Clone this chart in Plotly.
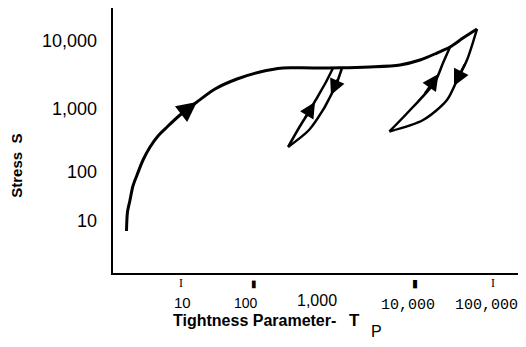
import math
import plotly.graph_objects as go

# ---- data (Tightness parameter Tp, Stress S) ----
main_T = [2.00, 2.06, 2.22, 2.42, 2.73, 3.26, 4.01, 5.07, 6.62, 9.71, 16.0, 27.3, 52.2, 103, 203,
          335, 1092, 2650, 6430, 11600, 19100, 28100, 41200, 62400]
main_S = [12.4, 24.3, 37.1, 60.9, 89.9, 153, 242, 358, 492, 753, 1194, 1892, 2697, 3455, 3981,
          4000, 4000, 4125, 4430, 5280, 6770, 8380, 11500, 15850]

mid_up_T = [236, 336, 451, 570, 723, 889]
mid_up_S = [243, 510, 900, 1476, 2425, 3981]
mid_down_T = [1159, 971, 813, 662, 438, 236]
mid_down_S = [3981, 2180, 1426, 900, 443, 243]

right_up_T = [4700, 9420, 18000, 22860, 28100]
right_up_S = [420, 1000, 2425, 4755, 8380]
right_down_T = [62400, 46400, 35600, 25700, 12700, 4700]
right_down_S = [15850, 5280, 2793, 1282, 631, 420]

# arrow heads: tip and tail points along the curves
arrow_tip_T = [16.0, 522, 837, 20000, 31600]
arrow_tip_S = [1194, 1194, 1530, 3220, 2104]
arrow_tail_T = [9.71, 383, 1045, 13030, 44400]
arrow_tail_S = [753, 653, 2793, 1530, 4755]
arrow_scale = [1.6, 1.25, 1.25, 1.3, 1.3]

x_tick_vals = [10, 100, 1000, 10000, 100000]
x_tick_text = ["10", "100", "1,000", "10,000", "100,000"]
y_tick_vals = [10, 100, 1000, 10000]
y_tick_text = ["10", "100", "1,000", "10,000"]

SANS = "Liberation Sans, Arial, sans-serif"
MONO = "Liberation Mono, DejaVu Sans Mono, monospace"

fig = go.Figure()

def add_line(xs, ys, w):
    fig.add_trace(go.Scatter(x=xs, y=ys, mode="lines",
                             line=dict(color="black", width=w, shape="spline", smoothing=0.8),
                             hoverinfo="skip", showlegend=False))

add_line(main_T, main_S, 3)
add_line(mid_up_T, mid_up_S, 2.5)
add_line(mid_down_T, mid_down_S, 2.5)
add_line(right_up_T, right_up_S, 2.5)
add_line(right_down_T, right_down_S, 2.5)

ann = []
# arrows
for tx, ty, ax, ay, s in zip(arrow_tip_T, arrow_tip_S, arrow_tail_T, arrow_tail_S, arrow_scale):
    ann.append(dict(x=math.log10(tx), y=math.log10(ty), ax=math.log10(ax), ay=math.log10(ay),
                    xref="x", yref="y", axref="x", ayref="y", text="", showarrow=True,
                    arrowhead=2, arrowwidth=2.5, arrowsize=s, arrowcolor="black", standoff=0))

# y tick labels
y_shift = [16, 0, -2, 1]
for v, t, sh in zip(y_tick_vals, y_tick_text, y_shift):
    ann.append(dict(x=0, xref="paper", y=math.log10(v), yref="y", text=t, showarrow=False,
                    xanchor="right", yanchor="middle", xshift=-14, yshift=sh,
                    font=dict(family=SANS, size=18, color="black")))

# x tick labels (as printed, slightly irregular)
x_shift = [1, -13, -20, -7, -7]
x_dy = [-29, -30, -27, -32, -32]
x_fonts = [SANS, SANS, SANS, MONO, MONO]
x_size = [15, 14, 16, 15, 15]
for v, t, sh, dy, f, sz in zip(x_tick_vals, x_tick_text, x_shift, x_dy, x_fonts, x_size):
    ann.append(dict(x=math.log10(v), xref="x", y=0, yref="paper", text=t, showarrow=False,
                    xanchor="center", yanchor="middle", xshift=sh, yshift=dy, borderpad=0,
                    font=dict(family=f, size=sz, color="black")))

# small tick marks below the axis
tick_mark_vals = [10, 100, 10000, 100000]
tick_mark_text = ["I", "▮", "▮", "I"]
tick_mark_shift = [0, -5, 0, 0]
tick_mark_size = [12, 10, 11, 12]
for v, t, sh, sz in zip(tick_mark_vals, tick_mark_text, tick_mark_shift, tick_mark_size):
    ann.append(dict(x=math.log10(v), xref="x", y=0, yref="paper", text=t, showarrow=False,
                    xanchor="center", yanchor="middle", xshift=sh, yshift=-10,
                    font=dict(family="Liberation Serif, serif", size=sz, color="black")))

# axis titles
ann.append(dict(x=(254 - 113) / 413, y=(273 - 320) / 265, xref="paper", yref="paper",
                text="<b>Tightness Parameter-</b>", showarrow=False, xanchor="center", yanchor="middle",
                borderpad=0, font=dict(family=SANS, size=16, color="black")))
ann.append(dict(x=(354 - 113) / 413, y=(273 - 320) / 265, xref="paper", yref="paper",
                text="<b>T</b>", showarrow=False, xanchor="center", yanchor="middle",
                borderpad=0, font=dict(family=SANS, size=17, color="black")))
ann.append(dict(x=(376.7 - 113) / 413, y=(273 - 331) / 265, xref="paper", yref="paper",
                text="P", showarrow=False, xanchor="center", yanchor="middle",
                borderpad=0, font=dict(family=SANS, size=16, color="black")))
ann.append(dict(x=(17 - 113) / 413, y=(273 - 165.8) / 265, xref="paper", yref="paper",
                text="<b>Stress  S</b>", showarrow=False, textangle=-90,
                xanchor="center", yanchor="middle",
                font=dict(family=SANS, size=15, color="black")))

# page body has an 8px default margin, so the figure is sized to fit the 526x347 window
fig.update_layout(
    width=518, height=339,
    margin=dict(l=105, r=0, t=0, b=74),
    paper_bgcolor="white", plot_bgcolor="white",
    showlegend=False,
    annotations=ann,
    xaxis=dict(type="log", range=[1 - 68 / 78, 1 + 345 / 78], showgrid=False, zeroline=False,
               showline=True, linecolor="black", linewidth=2, ticks="", showticklabels=False),
    yaxis=dict(type="log", range=[4 - 231 / 65, 4 + 34 / 65], showgrid=False, zeroline=False,
               showline=True, linecolor="black", linewidth=2, ticks="", showticklabels=False),
)

fig.write_html("out.html")
